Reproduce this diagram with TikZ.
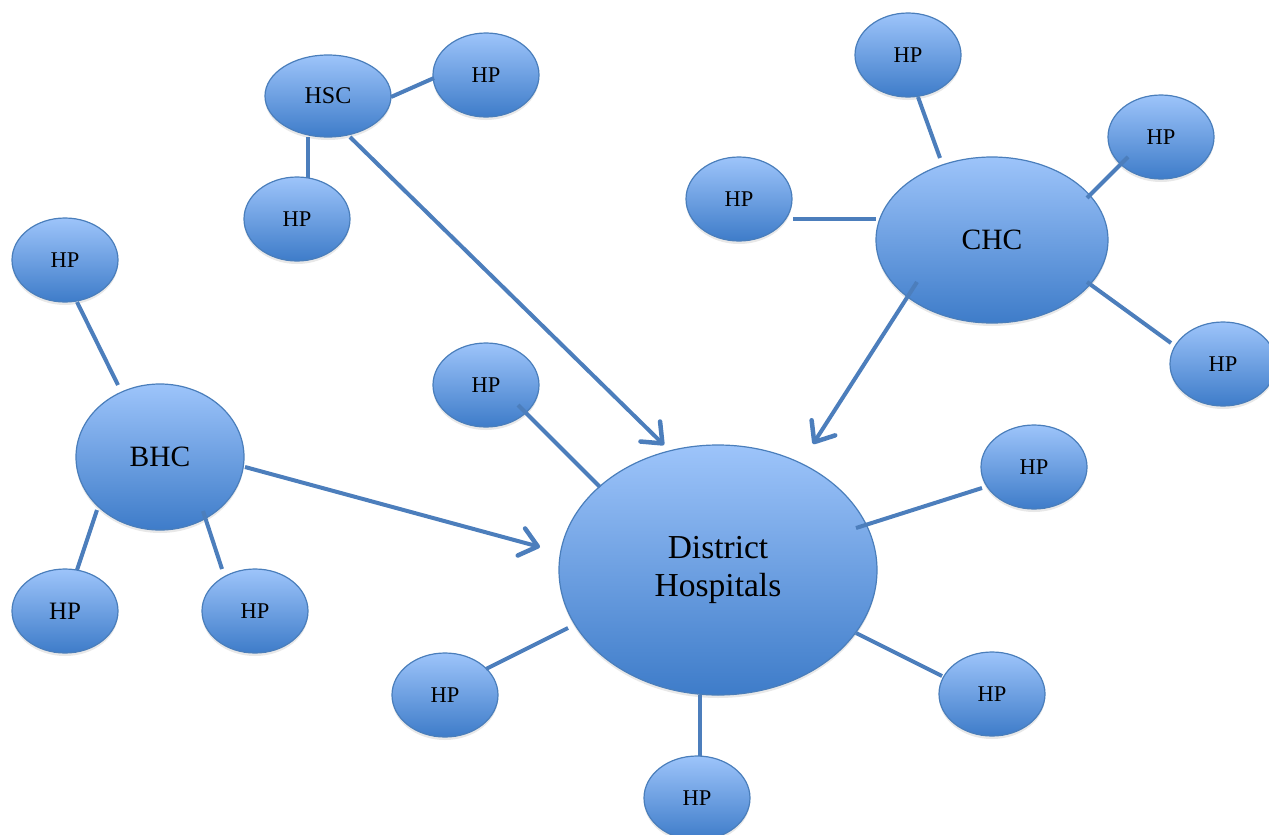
\documentclass[tikz,border=0pt]{standalone}
\usepackage{fontspec}
\setmainfont{Liberation Serif}
\usetikzlibrary{shapes.geometric,calc,arrows.meta,shadows}

\definecolor{topc}{RGB}{157,196,250}
\definecolor{botc}{RGB}{62,124,201}
\definecolor{edgec}{RGB}{74,126,187}
\definecolor{linec}{RGB}{76,126,188}

\tikzset{
  blob/.style={ellipse, draw=edgec, line width=1.2pt, top color=topc, bottom color=botc,
    inner sep=0pt, text=black,
    drop shadow={opacity=0.18, shadow xshift=0pt, shadow yshift=-3pt}},
  hp/.style={blob, minimum width=106pt, minimum height=84pt, font=\fontsize{22.5}{26}\selectfont},
  hpbig/.style={hp, font=\fontsize{25}{29}\selectfont},
  link/.style={draw=linec, line width=4pt},
  feed/.style={link, -{Straight Barb[length=17pt, width=28pt, line width'=4.5pt, round]}}
}

\begin{document}
\begin{tikzpicture}[x=1pt, y=-1pt]
\useasboundingbox (0,0) rectangle (1269,835);

% main hubs
\node[blob, minimum width=318pt, minimum height=250pt, align=center,
      font=\fontsize{33.5}{38}\selectfont] (dh) at (718,570) {District\\Hospitals};
\node[blob, minimum width=232pt, minimum height=166pt, font=\fontsize{29.5}{34}\selectfont] (chc) at (992,240) {CHC};
\node[blob, minimum width=168pt, minimum height=146pt, font=\fontsize{29.5}{34}\selectfont] (bhc) at (160,457) {BHC};
\node[blob, minimum width=126pt, minimum height=82pt, font=\fontsize{24}{28}\selectfont] (hsc) at (328,96) {HSC};

% health posts
\node[hp] (hpa) at (486,75) {HP};
\node[hp] (hpb) at (297,219) {HP};
\node[hp] (hpc) at (739,199) {HP};
\node[hp] (hpd) at (908,55) {HP};
\node[hp] (hpe) at (1161,137) {HP};
\node[hp] (hpf) at (1223,364) {HP};
\node[hp] (hpg) at (65,260) {HP};
\node[hpbig] (hph) at (65,611) {HP};
\node[hp] (hpi) at (255,611) {HP};
\node[hp] (hpj) at (486,385) {HP};
\node[hp] (hpk) at (1034,467) {HP};
\node[hp] (hpl) at (445,695) {HP};
\node[hp] (hpm) at (992,694) {HP};
\node[hp] (hpn) at (697,798) {HP};

% spokes
\draw[link] ($(hsc)+(63,1)$) -- ($(hpa)+(-52,3)$);
\draw[link] ($(hsc)+(-20,41)$) -- ($(hpb)+(11,-41)$);
\draw[link] ($(hpc)+(54,20)$) -- ($(chc)+(-116,-21)$);
\draw[link] ($(hpd)+(10,42)$) -- ($(chc)+(-52,-82)$);
\draw[link] ($(hpe)+(-33,20)$) -- ($(chc)+(95,-42)$);
\draw[link] ($(chc)+(95,42)$) -- ($(hpf)+(-52,-21)$);
\draw[link] ($(hpg)+(12,42)$) -- ($(bhc)+(-42,-72)$);
\draw[link] ($(bhc)+(-63,53)$) -- ($(hph)+(12,-41)$);
\draw[link] ($(bhc)+(43,54)$) -- ($(hpi)+(-33,-42)$);
\draw[link] ($(hpj)+(32,20)$) -- ($(dh)+(-118,-83)$);
\draw[link] ($(dh)+(138,-42)$) -- ($(hpk)+(-52,21)$);
\draw[link] ($(dh)+(-150,58)$) -- ($(hpl)+(41,-26)$);
\draw[link] ($(dh)+(138,63)$) -- ($(hpm)+(-50,-18)$);
\draw[link] ($(dh)+(-18,125)$) -- ($(hpn)+(3,-42)$);

% referrals to the district hospital
\draw[feed] ($(hsc)+(22,41)$) -- ($(dh)+(-54,-125)$);
\draw[feed] ($(chc)+(-75,42)$) -- ($(dh)+(95,-126)$);
\draw[feed] ($(bhc)+(85,10)$) -- ($(dh)+(-178,-23)$);
\end{tikzpicture}
\end{document}
